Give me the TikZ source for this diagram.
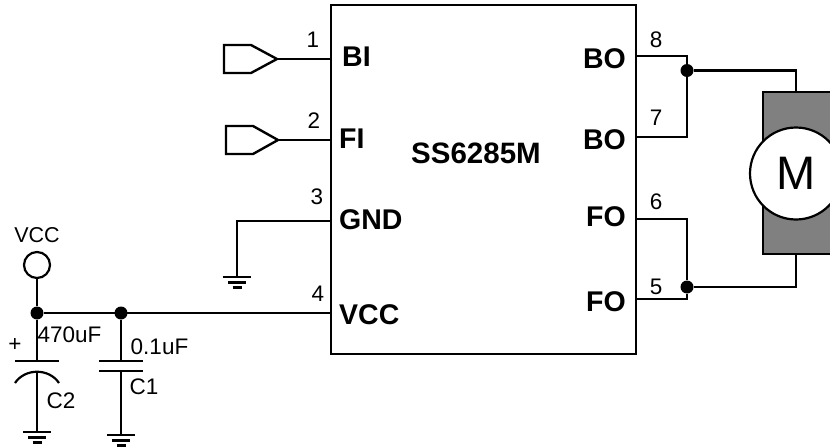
\documentclass[tikz,border=0pt]{standalone}
\usepackage{fontspec}
\setmainfont{Liberation Sans}
\begin{document}
\begin{tikzpicture}[x=1pt,y=-1pt,
  wire/.style={line width=2.2pt,line cap=butt,line join=miter},
  thick wire/.style={line width=2.4pt},
  dotnode/.style={circle,fill=black,inner sep=0pt,minimum size=13pt},
  pinlabel/.style={font=\fontsize{28.5}{28}\selectfont\bfseries,inner sep=0pt},
  numlabel/.style={font=\fontsize{22.5}{22}\selectfont,inner sep=0pt},
  partlabel/.style={font=\fontsize{22.5}{22}\selectfont,inner sep=0pt}]
\useasboundingbox (0,0) rectangle (830,447);
\tikzset{gnd/.pic={\draw[wire] (-14,0)--(14,0) (-9,5.5)--(9,5.5);\draw[line width=2.5pt] (-4.5,10.5)--(4.5,10.5);}}
% IC
\node[draw,line width=2.2pt,minimum width=305pt,minimum height=349pt,inner sep=0pt,anchor=north west] (ic) at (330,4) {};
\node[inner sep=0pt,font=\fontsize{29.5}{30}\selectfont\bfseries] (title) at (476,153) {SS6285M};
% pin coordinates
\coordinate (p1) at (330,59); \coordinate (p2) at (330,140); \coordinate (p3) at (330,221); \coordinate (p4) at (330,313);
\coordinate (p8) at (635,56); \coordinate (p7) at (635,137); \coordinate (p6) at (635,219); \coordinate (p5) at (635,299);
% pin labels
\node[pinlabel,anchor=west] (lbi) at (342,57) {BI};
\node[pinlabel,anchor=west] (lfi) at (339,139) {FI};
\node[pinlabel,anchor=west] (lgnd) at (339,220) {GND};
\node[pinlabel,anchor=west] (lvcc) at (339,315) {VCC};
\node[pinlabel,anchor=east] (lbo1) at (626,59) {BO};
\node[pinlabel,anchor=east] (lbo2) at (626,140) {BO};
\node[pinlabel,anchor=east] (lfo1) at (626,217) {FO};
\node[pinlabel,anchor=east] (lfo2) at (626,302) {FO};
% pin numbers
\node[numlabel] (n1) at (313,40) {1};
\node[numlabel] (n2) at (314,121) {2};
\node[numlabel] (n3) at (317,197) {3};
\node[numlabel] (n4) at (318,294) {4};
\node[numlabel] (n8) at (656,40) {8};
\node[numlabel] (n7) at (656,118) {7};
\node[numlabel] (n6) at (656,202) {6};
\node[numlabel] (n5) at (656,287) {5};
% inputs
\coordinate (bi) at (277,59); \coordinate (fi) at (278,140);
\draw[thick wire,line join=miter] (bi)--(251,45)--(224,45)--(224,73)--(251,73)--cycle;
\draw[thick wire,line join=miter] (fi)--(253,126)--(226,126)--(226,154)--(253,154)--cycle;
\draw[wire] (bi)--(p1);
\draw[wire] (fi)--(p2);
% GND
\coordinate (g3) at (237,277);
\draw[wire] (p3)-|(g3);
\pic at (g3) {gnd};
% Motor
\fill[fill=black!50] (763,92) rectangle (830,254);
\draw[line width=1.2pt] (830,92)--(763,92)--(763,254)--(830,254);
\node[circle,draw,fill=white,line width=2.2pt,minimum size=92pt,inner sep=0pt] (m) at (796,173.5) {};
\node[inner sep=0pt,font=\fontsize{47}{47}\selectfont] (mlabel) at (796,173.5) {M};
\coordinate (mt) at (796,92); \coordinate (mb) at (796,254);
\node[dotnode] (jt) at (687,70.5) {};
\node[dotnode] (jb) at (687,287) {};
\draw[wire] (p8)-|(jt);
\draw[wire] (p7)-|(jt);
\draw[wire] (p6)-|(jb);
\draw[wire] (p5)-|(jb);
\draw[wire] (jt)-|(mt);
\draw[wire] (jb)-|(mb);
% VCC
\node[circle,draw,line width=2.2pt,minimum size=26pt,inner sep=0pt] (vcc) at (37,265) {};
\node[font=\fontsize{21.5}{22}\selectfont,inner sep=0pt] (lv) at (37,235) {VCC};
\node[dotnode] (j1) at (37,313) {};
\node[dotnode] (j2) at (121,313) {};
\draw[wire] (j1)--(p4);
\draw[wire] (vcc)--(j1);
% C2
\coordinate (c2a) at (37,361); \coordinate (c2b) at (37,371); \coordinate (g2) at (37,432);
\draw[wire] (j1)--(c2a);
\draw[wire] (15,361)--(59,361);
\draw[wire] (15,383) .. controls (25,368) and (49,368) .. (59,383);
\draw[wire] (c2b)--(g2);
\pic at (g2) {gnd};
\node[partlabel] (l470) at (69.5,335) {470uF};
\node[partlabel] (lplus) at (15,345) {+};
\node[partlabel] (lc2) at (61,401) {C2};
% C1
\coordinate (c1a) at (121,361); \coordinate (c1b) at (121,371); \coordinate (g1) at (121,435);
\draw[wire] (j2)--(c1a);
\draw[wire] (99,361)--(143,361);
\draw[wire] (99,371)--(143,371);
\draw[wire] (c1b)--(g1);
\pic at (g1) {gnd};
\node[partlabel] (l01) at (159.5,347) {0.1uF};
\node[partlabel] (lc1) at (144,387) {C1};
\end{tikzpicture}
\end{document}
